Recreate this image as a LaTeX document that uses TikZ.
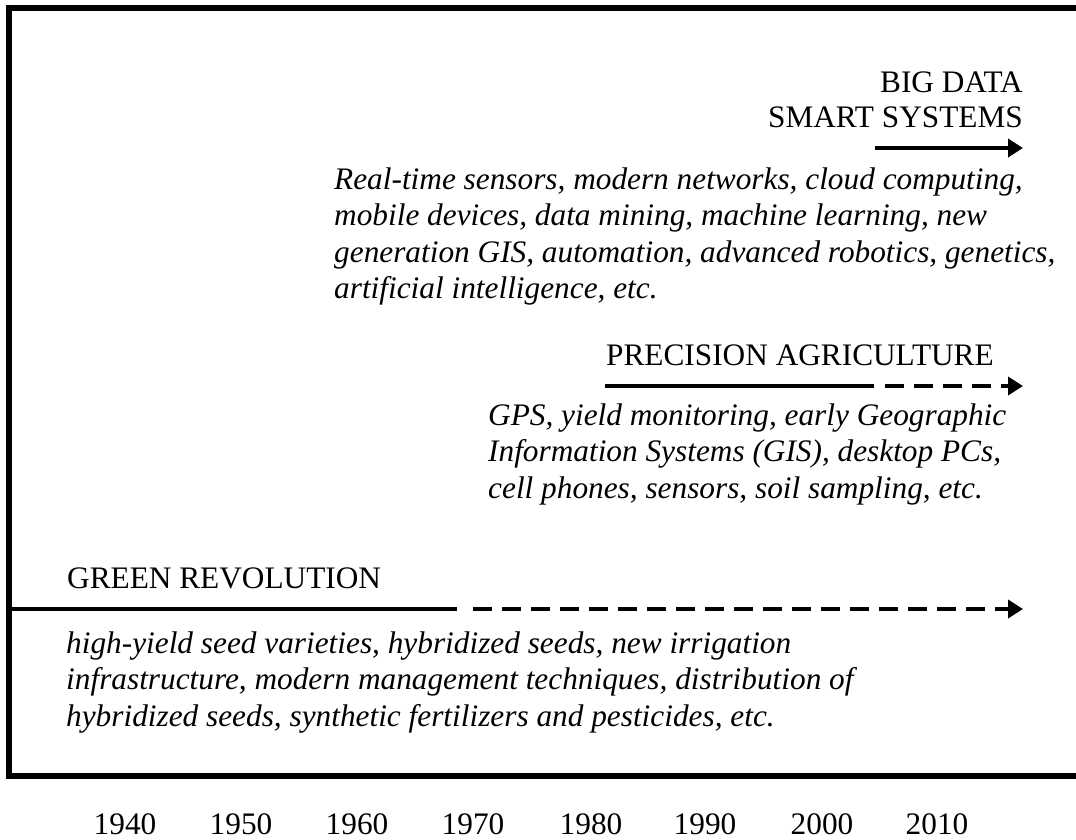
\documentclass[tikz,border=0pt]{standalone}
\usepackage{fontspec}
\setmainfont{Liberation Serif}
\usetikzlibrary{arrows.meta}
\begin{document}
\begin{tikzpicture}[x=1pt,y=-1pt,
  lbl/.style={inner sep=0pt, font=\fontsize{31.3}{35.5}\selectfont},
  desc/.style={inner sep=0pt, anchor=base west, font=\fontsize{31.3}{36.5}\selectfont\itshape},
  yr/.style={inner sep=0pt, anchor=base, font=\fontsize{31.3}{35.5}\selectfont},
  frameln/.style={line width=6pt, line join=miter},
  solidln/.style={line width=4.5pt},
  dashln/.style={line width=4.5pt, dash pattern=on 19pt off 10pt},
  tipped/.style={-{Triangle[length=15pt,width=18pt]}}
]
\useasboundingbox (0,0) rectangle (1076,839);
\clip (0,0) rectangle (1076,839);

% frame (open on the right)
\draw[frameln] (1090,8) -- (9,8) -- (9,776) -- (1090,776);

% BIG DATA
\node[lbl, anchor=base east] (bd) at (1023,92) {\begin{tabular}[t]{@{}r@{}}BIG DATA\\SMART SYSTEMS\end{tabular}};
\coordinate (bdA) at (875,148);
\coordinate (bdB) at (1023,148);
\draw[solidln, tipped] (bdA) -- (bdB);
\node[desc] (bdtxt) at (334,189) {\begin{tabular}[t]{@{}l@{}}Real-time sensors, modern networks, cloud computing,\\mobile devices, data mining, machine learning, new\\generation GIS, automation, advanced robotics, genetics,\\artificial intelligence, etc.\end{tabular}};

% PRECISION AGRICULTURE
\node[lbl, anchor=base west] (pa) at (606,365) {PRECISION AGRICULTURE};
\coordinate (paA) at (605,386);
\coordinate (paB) at (874,386);
\coordinate (paC) at (885,386);
\coordinate (paD) at (1023,386);
\draw[solidln] (paA) -- (paB);
\draw[dashln, tipped] (paC) -- (paD);
\node[desc] (patxt) at (488,425) {\begin{tabular}[t]{@{}l@{}}GPS, yield monitoring, early Geographic\\Information Systems (GIS), desktop PCs,\\cell phones, sensors, soil sampling, etc.\end{tabular}};

% GREEN REVOLUTION
\node[lbl, anchor=base west] (gr) at (67,588) {GREEN REVOLUTION};
\coordinate (grA) at (9,609);
\coordinate (grB) at (457,609);
\coordinate (grC) at (473,609);
\coordinate (grD) at (1023,609);
\draw[solidln] (grA) -- (grB);
\draw[dashln, tipped] (grC) -- (grD);
\node[desc] (grtxt) at (66,653) {\begin{tabular}[t]{@{}l@{}}high-yield seed varieties, hybridized seeds, new irrigation\\infrastructure, modern management techniques, distribution of\\hybridized seeds, synthetic fertilizers and pesticides, etc.\end{tabular}};

% years
\node[yr] (y1940) at (125,834) {1940};
\node[yr] (y1950) at (241,834) {1950};
\node[yr] (y1960) at (357,834) {1960};
\node[yr] (y1970) at (473,834) {1970};
\node[yr] (y1980) at (591,834) {1980};
\node[yr] (y1990) at (705,834) {1990};
\node[yr] (y2000) at (822,834) {2000};
\node[yr] (y2010) at (937,834) {2010};
\end{tikzpicture}
\end{document}
